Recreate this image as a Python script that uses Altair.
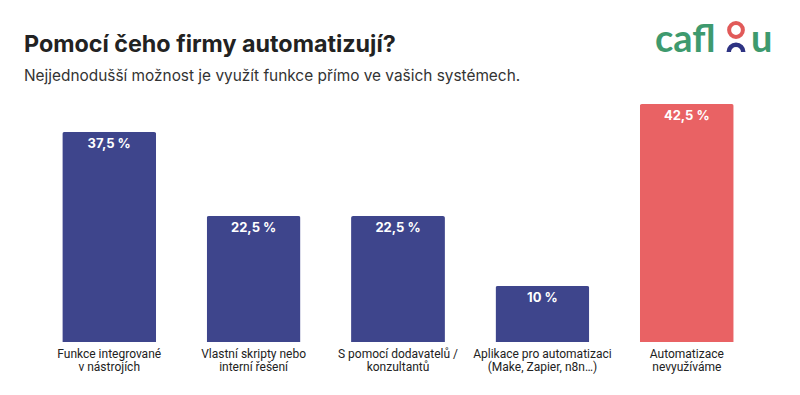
import altair as alt
import pandas as pd

categories = [
    "Funkce integrované|v nástrojích",
    "Vlastní skripty nebo|interní řešení",
    "S pomocí dodavatelů /|konzultantů",
    "Aplikace pro automatizaci|(Make, Zapier, n8n…)",
    "Automatizace|nevyužíváme",
]
values = [37.5, 22.5, 22.5, 10, 42.5]
bar_colors = ["#3E458C", "#3E458C", "#3E458C", "#3E458C", "#E96264"]

title_text = "Pomocí čeho firmy automatizují?"
subtitle_text = "Nejjednodušší možnost je využít funkce přímo ve vašich systémech."

df = pd.DataFrame({"cat": categories, "val": values, "color": bar_colors})

x = alt.X("cat:N", sort=categories, title=None,
          scale=alt.Scale(paddingInner=0.35, paddingOuter=0.175),
          axis=alt.Axis(labelAngle=0, domain=False, ticks=False, labelPadding=6,
                        labelExpr="split(datum.label, '|')", labelFont="Roboto",
                        labelFontSize=12, labelColor="#222222", labelLineHeight=13,
                        labelBaseline="top"))
y = alt.Y("val:Q", title=None, scale=alt.Scale(domain=[0, 42.5], nice=False),
          axis=None)

base = alt.Chart(df)
bars = base.mark_bar(cornerRadiusTopLeft=2, cornerRadiusTopRight=2).encode(
    x=x, y=y, color=alt.Color("color:N", scale=None))
labels = base.transform_calculate(
    lab="replace(format(datum.val, '.1~f'), '.', ',') + ' %'"
).mark_text(color="white", font="Inter", fontWeight="bold", fontSize=13,
            baseline="middle", dy=12).encode(x=x, y=y, text="lab:N")

one = pd.DataFrame({"a": [0]})
title = alt.Chart(one).mark_text(text=title_text, font="Inter", fontWeight="bold",
                                 fontSize=23.3, color="#222222", align="left",
                                 baseline="alphabetic").encode(
    x=alt.value(-13), y=alt.value(-52))
subtitle = alt.Chart(one).mark_text(text=subtitle_text, font="Inter", fontSize=15.4,
                                    color="#333333", align="left",
                                    baseline="alphabetic").encode(
    x=alt.value(-13), y=alt.value(-23))

green = "#3E9A6E"
logo1 = alt.Chart(one).mark_text(text="cafl", font="Lato", fontWeight="bold",
                                 fontSize=38, color=green, align="left",
                                 baseline="alphabetic").encode(
    x=alt.value(618), y=alt.value(-52))
logo2 = alt.Chart(one).mark_text(text="u", font="Lato", fontWeight="bold",
                                 fontSize=38, color=green, align="left",
                                 baseline="alphabetic").encode(
    x=alt.value(714), y=alt.value(-52))
ring = alt.Chart(one).mark_point(shape="circle", size=190, filled=False,
                                 strokeWidth=4, color="#E15A59", opacity=1).encode(
    x=alt.value(699), y=alt.value(-74))
arc = alt.Chart(one).mark_arc(theta=4.712, theta2=7.854, radius=9.5, radius2=5,
                              color="#2E3383").encode(
    x=alt.value(699), y=alt.value(-52))

chart = alt.layer(bars, labels, title, subtitle, logo1, logo2, ring, arc).properties(
    width=722, height=238,
    autosize=alt.AutoSizeParams(type="none"),
    padding={"left": 29, "top": 96, "right": 30, "bottom": 40},
).configure_view(stroke=None)

chart.save("out.html", embed_options={"renderer": "svg", "actions": False})
